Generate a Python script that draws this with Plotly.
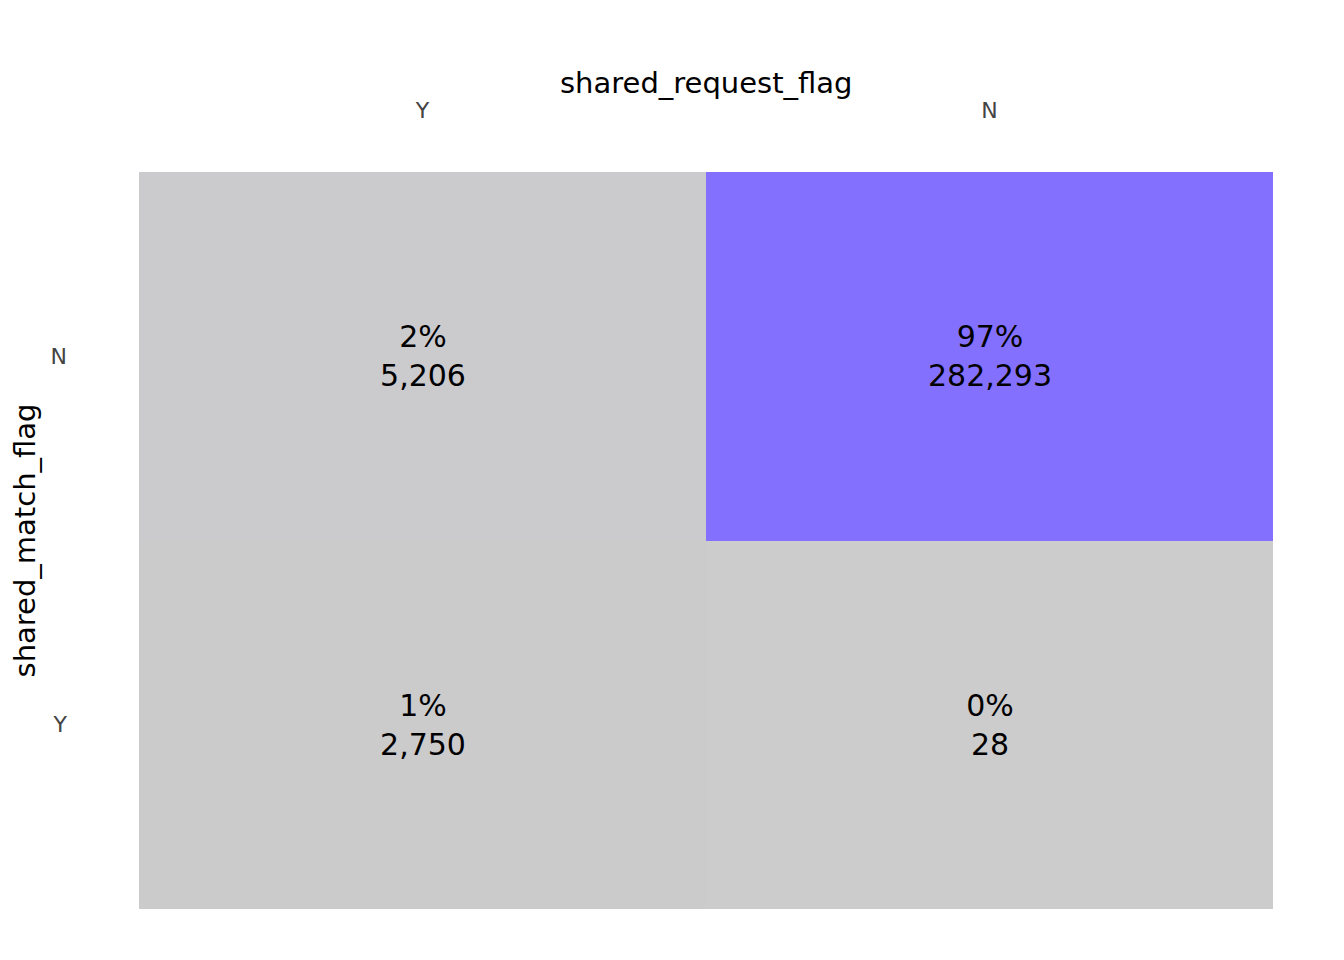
import plotly.graph_objects as go

x_labels = ['Y', 'N']
y_labels = ['N', 'Y']
counts = [[5206, 282293],
          [2750, 28]]
pct = [['2%', '97%'],
       ['1%', '0%']]

fig = go.Figure(go.Heatmap(
    x=x_labels,
    y=y_labels,
    z=counts,
    text=pct,
    texttemplate='%{text}<br>%{z:,}',
    textfont=dict(size=30, color='black', family='DejaVu Sans'),
    colorscale=[[0, '#CCCCCC'], [1, '#8470FF']],
    showscale=False,
    xgap=0, ygap=0,
))

fig.update_layout(
    width=1344, height=960,
    plot_bgcolor='white',
    paper_bgcolor='white',
    font=dict(family='DejaVu Sans'),
    margin=dict(l=127, r=79, t=164, b=59),
)
# x title placed by hand, the axis title sits too high above the top tick labels
fig.add_annotation(
    text='shared_request_flag',
    xref='paper', yref='paper', x=0.5, y=1.1208,
    xanchor='center', yanchor='middle',
    showarrow=False,
    font=dict(size=29, color='black'),
)
fig.update_xaxes(
    side='top',
    tickfont=dict(size=22, color='#444444'),
    ticklabelstandoff=49,
    showgrid=False, zeroline=False, showline=False,
)
fig.update_yaxes(
    autorange='reversed',
    title=dict(text='shared_match_flag', font=dict(size=29, color='black'), standoff=10),
    tickfont=dict(size=22, color='#444444'),
    ticklabelstandoff=71,
    showgrid=False, zeroline=False, showline=False,
)

fig.write_html('out.html')
